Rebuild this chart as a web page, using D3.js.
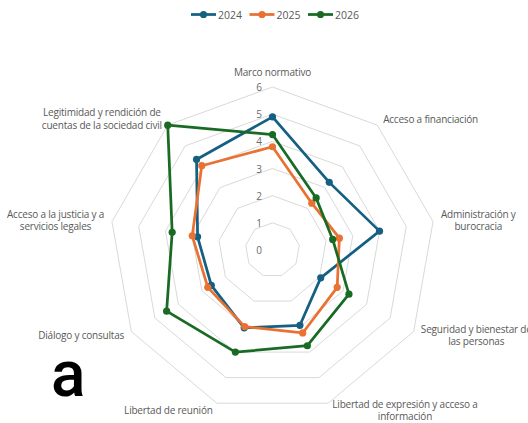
<!DOCTYPE html>
<html>
<head>
<meta charset="utf-8">
<script src="https://cdn.jsdelivr.net/npm/d3@7"></script>
<style>
  body { margin: 0; background: #ffffff; }
  text { font-family: "Open Sans", "Liberation Sans", sans-serif; }
</style>
</head>
<body>
<div id="chart"></div>
<script>

// categories (clockwise from the top), already wrapped as in the reference
var categories = [
  ["Marco normativo"],
  ["Acceso a financiación"],
  ["Administración y", "burocracia"],
  ["Seguridad y bienestar de", "las personas"],
  ["Libertad de expresión y acceso a", "información"],
  ["Libertad de reunión"],
  ["Diálogo y consultas"],
  ["Acceso a la justicia y a", "servicios legales"],
  ["Legitimidad y rendición de", "cuentas de la sociedad civil"]
];

var seriesNames = ["2024", "2025", "2026"];
var values2024 = [4.9, 3.25, 4.0, 2.05, 2.95, 3.05, 2.6, 2.8, 4.35];
var values2025 = [3.8, 2.25, 2.5, 2.75, 3.25, 3.0, 2.75, 3.0, 4.05];
var values2026 = [4.25, 2.5, 2.25, 3.25, 3.75, 4.0, 4.5, 3.75, 6.0];
var tickValues = [0, 1, 2, 3, 4, 5, 6];

var colors = ["#156082", "#e97132", "#196b24"];
var allSeries = [values2024, values2025, values2026];

var width = 528, height = 423;
var cx = 272.5, cy = 250;

var svg = d3.select("#chart")
    .append("svg")
    .attr("width", width)
    .attr("height", height);

// radial scale
var r = d3.scaleLinear().domain([0, 6]).range([0, 163]);
var n = categories.length;
var angle = function(i) { return i * 2 * Math.PI / n; };
var px = function(i, v) { return cx + r(v) * Math.sin(angle(i)); };
var py = function(i, v) { return cy - r(v) * Math.cos(angle(i)); };

// grid rings
tickValues.filter(function(t) { return t > 0; }).forEach(function(t) {
  var pts = d3.range(n).map(function(i) { return [px(i, t), py(i, t)]; });
  svg.append("polygon")
    .attr("points", pts.map(function(p) { return p.join(","); }).join(" "))
    .style("fill", "none")
    .style("stroke", "#d9d9d9")
    .style("stroke-width", 1);
});

// tick labels
svg.selectAll(".tick")
  .data(tickValues)
  .enter().append("text")
    .attr("class", "tick")
    .attr("x", cx - 13.5)
    .attr("y", function(d) { return cy - r(d) + 4; })
    .attr("text-anchor", "middle")
    .style("fill", "#6b6b6b")
    .style("font-size", "10px")
    .text(function(d) { return d; });

// category labels, placed beside the outer ring vertex
var lh = 12.5;
var maxV = d3.max(tickValues);
categories.forEach(function(lines, i) {
  var a = angle(i);
  var sn = Math.sin(a), cs = Math.cos(a);
  var x0 = px(i, maxV), y0 = py(i, maxV);
  var g = svg.append("text")
    .style("fill", "#595959")
    .style("font-size", "10px")
    .style("letter-spacing", "-0.2px")
    .attr("text-anchor", "middle");
  var spans = lines.map(function(s) { return g.append("tspan").text(s); });
  var w = d3.max(spans, function(t) { return t.node().getComputedTextLength(); });
  var mx = x0, my;
  if (Math.abs(sn) > 0.1) mx = x0 + Math.sign(sn) * (w / 2 + 2 + 6 * Math.abs(sn));
  if (cs > 0.9) my = y0 - 11 - 3.5 - (lines.length - 1) * lh / 2;
  else my = y0 - cs * 8;
  var first = my - (lines.length - 1) * lh / 2 + 3.5;
  spans.forEach(function(t, k) {
    t.attr("x", mx).attr("y", first + k * lh);
  });
});

// series lines + markers
var line = d3.line()
  .x(function(d, i) { return px(i, d); })
  .y(function(d, i) { return py(i, d); })
  .curve(d3.curveLinearClosed);

allSeries.forEach(function(vals, s) {
  svg.append("path")
    .attr("d", line(vals))
    .style("fill", "none")
    .style("stroke", colors[s])
    .style("stroke-width", 2.75)
    .style("stroke-linejoin", "round");
  svg.selectAll(".m" + s)
    .data(vals)
    .enter().append("circle")
      .attr("cx", function(d, i) { return px(i, d); })
      .attr("cy", function(d, i) { return py(i, d); })
      .attr("r", 3.6)
      .style("fill", colors[s]);
});

// legend
var legX = d3.scalePoint().domain(seriesNames).range([191, 308]);
seriesNames.forEach(function(name, s) {
  var lx = legX(name);
  svg.append("line")
    .attr("x1", lx).attr("x2", lx + 25)
    .attr("y1", 14.5).attr("y2", 14.5)
    .style("stroke", colors[s])
    .style("stroke-width", 2.75);
  svg.append("circle")
    .attr("cx", lx + 12.5).attr("cy", 14.5).attr("r", 3.6)
    .style("fill", colors[s]);
  svg.append("text")
    .attr("x", lx + 27).attr("y", 18.5)
    .style("fill", "#595959")
    .style("font-size", "10.5px")
    .text(name);
});

// panel letter
svg.append("text")
  .attr("x", 51).attr("y", 396)
  .style("fill", "#000000")
  .style("font-size", "64px")
  .style("font-family", "Roboto, 'Open Sans', sans-serif")
  .style("font-weight", 500)
  .text("a");

</script>
</body>
</html>
